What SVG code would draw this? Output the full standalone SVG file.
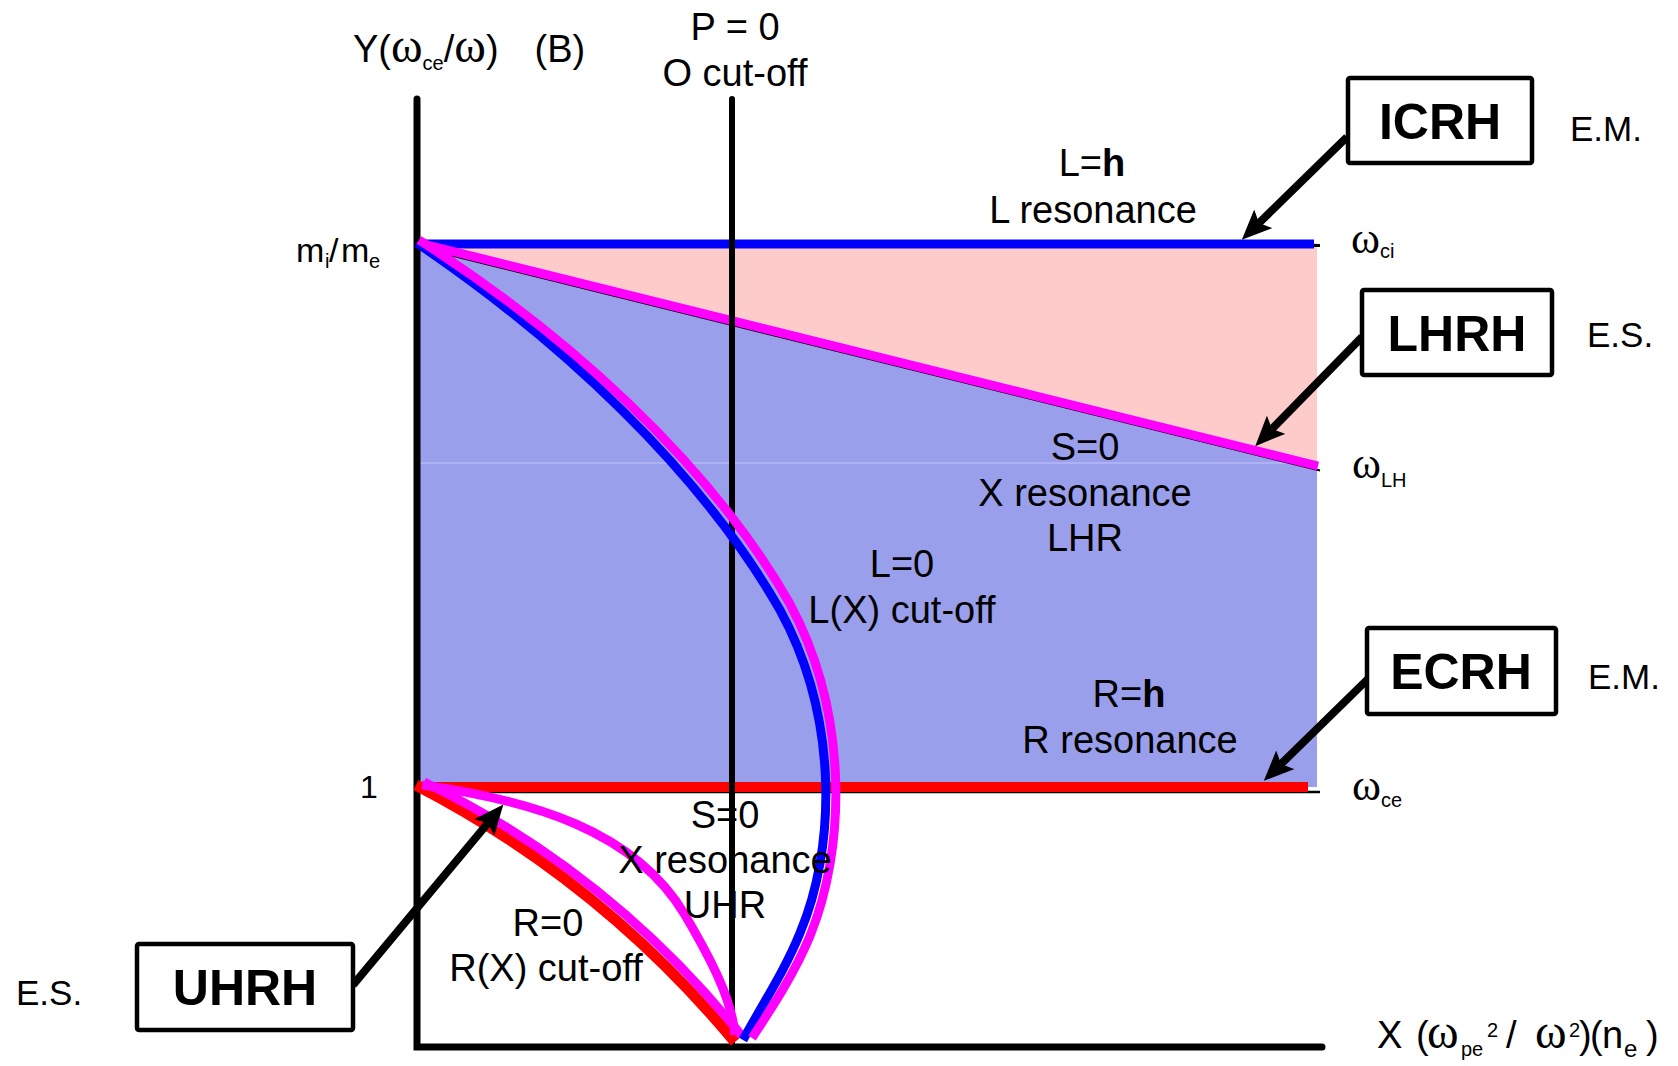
<svg xmlns="http://www.w3.org/2000/svg" width="1678" height="1066" viewBox="0 0 1678 1066">
<defs>
<style>
.t{font-family:"Liberation Sans",Arial,sans-serif;fill:#000}
.lbl{font-size:38px;text-anchor:middle}
.w{font-family:"Liberation Serif","Times New Roman",serif}
.box rect{fill:#fff;stroke:#000;stroke-width:4.5}
.box text{font-family:"Liberation Sans",Arial,sans-serif;font-weight:bold;font-size:50px;text-anchor:middle}
.side{font-family:"Liberation Sans",Arial,sans-serif;font-size:35px}
.arrow{stroke:#000;stroke-width:8;fill:none;marker-end:url(#ah)}
</style>
<marker id="ah" markerUnits="userSpaceOnUse" viewBox="0 0 30 26" markerWidth="30" markerHeight="26" refX="6" refY="13" orient="auto"><path d="M0,0 L30,13 L0,26 L6,13 z" fill="#000"/></marker>
</defs>
<rect width="1678" height="1066" fill="#fff"/>

<g id="regions">
<polygon points="417,243 1317,243 1317,465" fill="#FECBCB"/>
<polygon points="417,243 1317,465 1317,787 417,787" fill="#9A9FEC"/>
<line x1="417" y1="463" x2="1317" y2="463" stroke="#AEB2F2" stroke-width="2"/>
</g>

<g id="levels">
<line x1="417" y1="245.5" x2="1320" y2="245.5" stroke="#000" stroke-width="3"/>
<line x1="417" y1="244" x2="1314" y2="244" stroke="#0000FF" stroke-width="9"/>
<line x1="419" y1="247.5" x2="1320" y2="470.5" stroke="#000" stroke-width="2"/>
<line x1="419" y1="243" x2="1318" y2="466" stroke="#FF00FF" stroke-width="9"/>
<line x1="417" y1="792" x2="1320" y2="792" stroke="#000" stroke-width="2.5"/>
<line x1="417" y1="787" x2="1308" y2="787" stroke="#FF0000" stroke-width="10"/>
</g>

<g id="axes" stroke="#000" fill="none">
<path d="M417,99 V1047 H1322" stroke-width="7" stroke-linecap="round"/>
<line x1="732" y1="99" x2="732" y2="1047" stroke-width="6" stroke-linecap="round"/>
</g>

<g id="lowlabels" class="t lbl">
<text x="548" y="936">R=0</text>
<text x="546" y="981">R(X) cut-off</text>
</g>

<g id="curves" fill="none" stroke-width="9">
<path d="M416,785 Q600,880 735,1042" stroke="#FF0000" stroke-width="11"/>
<path d="M424,782 Q610,872 742,1036" stroke="#FF00FF"/>
<path d="M422,785 C530,800 635,830 685,915 C712,961 732,1000 735,1035" stroke="#FF00FF"/>
<path d="M417,243 C560,340 700,470 780,610 C840,720 835,850 800,933 C785,970 765,1000 743,1040" stroke="#0000FF"/>
<path d="M419,240 C565,333 710,463 790,604 C850,716 845,850 810,936 C795,972 775,1003 752,1038" stroke="#FF00FF"/>
</g>

<g id="labels" class="t lbl">
<text x="735" y="40">P = 0</text>
<text x="735" y="86">O cut-off</text>
<text x="1092" y="176">L=<tspan font-weight="bold">h</tspan></text>
<text x="1093" y="223">L resonance</text>
<text x="1085" y="460">S=0</text>
<text x="1085" y="506">X resonance</text>
<text x="1085" y="551">LHR</text>
<text x="902" y="577">L=0</text>
<text x="902" y="623">L(X) cut-off</text>
<text x="1129" y="707">R=<tspan font-weight="bold">h</tspan></text>
<text x="1130" y="753">R resonance</text>
<text x="725" y="828">S=0</text>
<text x="725" y="873">X resonance</text>
<text x="725" y="918">UHR</text>
</g>

<g id="axis-labels" class="t">
<text x="353" y="62" font-size="38">Y(<tspan class="w" font-size="48">ω</tspan><tspan font-size="20" dy="8">ce</tspan><tspan dy="-8">/</tspan><tspan class="w" font-size="48">ω</tspan>)<tspan dx="36">(B)</tspan></text>
<text y="262" font-size="34"><tspan x="296">m</tspan><tspan x="325" y="268" font-size="20">i</tspan><tspan x="329" y="262">/</tspan><tspan x="341">m</tspan><tspan x="369" y="268" font-size="20">e</tspan></text>
<text x="360" y="798" font-size="32">1</text>
<text y="253"><tspan class="w" x="1351" font-size="44">ω</tspan><tspan x="1380" y="258" font-size="20">ci</tspan></text>
<text y="478"><tspan class="w" x="1352" font-size="44">ω</tspan><tspan x="1381" y="487" font-size="20">LH</tspan></text>
<text y="800"><tspan class="w" x="1352" font-size="44">ω</tspan><tspan x="1381" y="807" font-size="20">ce</tspan></text>
<text y="1048" font-size="38"><tspan x="1377">X</tspan><tspan x="1416">(</tspan><tspan class="w" x="1427" font-size="48">ω</tspan><tspan x="1461" y="1056" font-size="20">pe</tspan><tspan x="1487" y="1037" font-size="20">2</tspan><tspan x="1506" y="1048">/</tspan><tspan class="w" x="1535" font-size="48">ω</tspan><tspan x="1569" y="1037" font-size="20">2</tspan><tspan x="1579" y="1048">)</tspan><tspan x="1590">(</tspan><tspan x="1602">n</tspan><tspan x="1624" y="1057" font-size="24">e</tspan><tspan x="1646" y="1048">)</tspan></text>
</g>

<g id="connectors">
<line class="arrow" x1="1347" y1="137" x2="1259" y2="223"/>
<line class="arrow" x1="1362" y1="337" x2="1272" y2="429"/>
<line class="arrow" x1="1370" y1="677" x2="1281" y2="764"/>
<line class="arrow" x1="353" y1="985" x2="488" y2="823"/>
</g>

<g id="ICRH" class="box"><rect x="1348" y="78" width="184" height="85" rx="2"/><text x="1440" y="139">ICRH</text></g>
<text class="side" x="1570" y="141">E.M.</text>
<g id="LHRH" class="box"><rect x="1362" y="290" width="190" height="85" rx="2"/><text x="1457" y="351">LHRH</text></g>
<text class="side" x="1587" y="347">E.S.</text>
<g id="ECRH" class="box"><rect x="1367" y="628" width="189" height="86" rx="2"/><text x="1461" y="689">ECRH</text></g>
<text class="side" x="1588" y="689">E.M.</text>
<g id="UHRH" class="box"><rect x="137" y="944" width="216" height="86" rx="2"/><text x="245" y="1005">UHRH</text></g>
<text class="side" x="16" y="1005">E.S.</text>
</svg>
